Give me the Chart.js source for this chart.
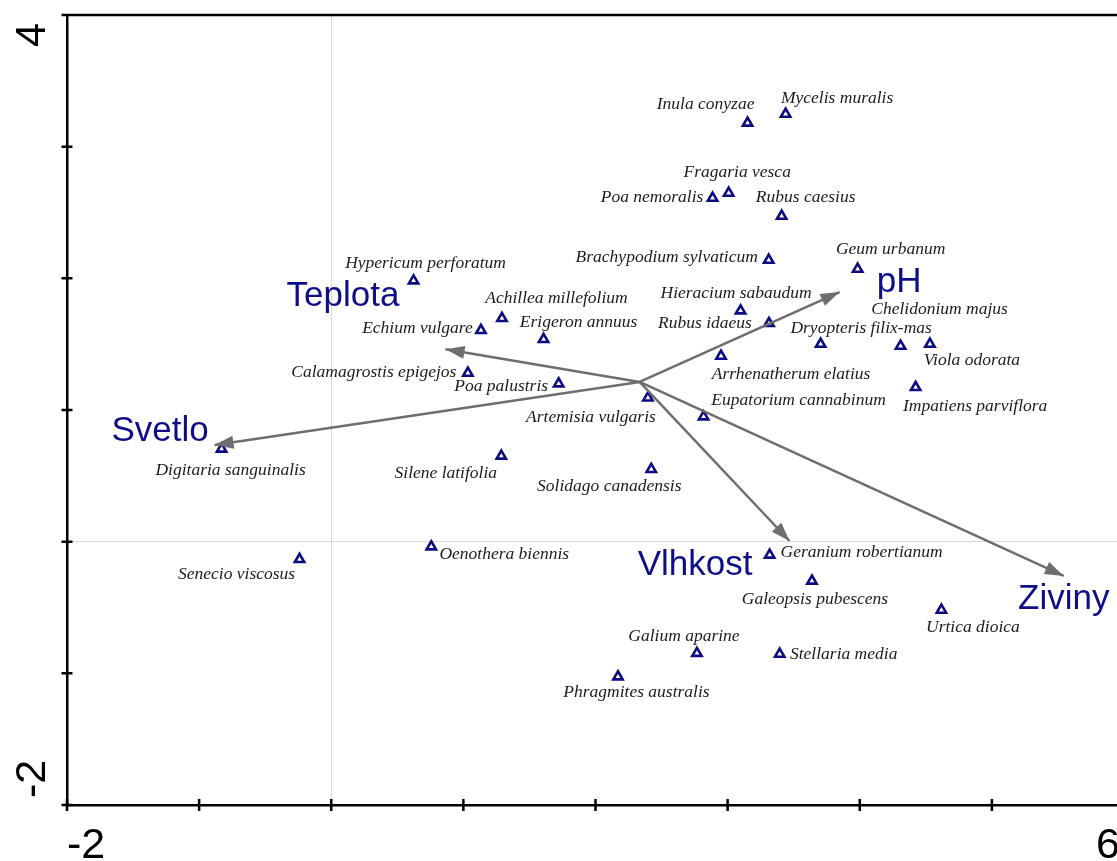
<!DOCTYPE html>
<html>
<head>
<meta charset="utf-8">
<title>Ordinační diagram</title>
<script src="https://cdn.jsdelivr.net/npm/chart.js@4"></script>
<style>
  html, body { margin: 0; padding: 0; background: #fff; overflow: hidden; }
  #wrap { position: relative; width: 1130px; height: 861px; }
</style>
</head>
<body>
<div id="wrap"><canvas id="ord" width="1130" height="861"></canvas></div>
<script>
// Species scores on the first two ordination axes
const species = [
  'Inula conyzae', 'Mycelis muralis', 'Fragaria vesca', 'Poa nemoralis', 'Rubus caesius',
  'Brachypodium sylvaticum', 'Geum urbanum', 'Hypericum perforatum', 'Hieracium sabaudum',
  'Rubus idaeus', 'Dryopteris filix-mas', 'Chelidonium majus', 'Viola odorata',
  'Impatiens parviflora', 'Achillea millefolium', 'Echium vulgare', 'Erigeron annuus',
  'Calamagrostis epigejos', 'Poa palustris', 'Arrhenatherum elatius', 'Artemisia vulgaris',
  'Eupatorium cannabinum', 'Digitaria sanguinalis', 'Silene latifolia', 'Solidago canadensis',
  'Oenothera biennis', 'Senecio viscosus', 'Geranium robertianum', 'Galeopsis pubescens',
  'Urtica dioica', 'Galium aparine', 'Stellaria media', 'Phragmites australis'
];
const speciesAxis1 = [
  3.151, 3.439, 3.008, 2.886, 3.409,
  3.311, 3.984, 0.623, 3.098,
  3.313, 3.704, 4.309, 4.531,
  4.423, 1.292, 1.133, 1.607,
  1.034, 1.721, 2.950, 2.397,
  2.818, -0.830, 1.287, 2.422,
  0.757, -0.240, 3.318, 3.638,
  4.618, 2.768, 3.394, 2.170
];
const speciesAxis2 = [
  3.180, 3.248, 2.648, 2.610, 2.473,
  2.139, 2.071, 1.982, 1.754,
  1.658, 1.501, 1.486, 1.501,
  1.172, 1.696, 1.605, 1.537,
  1.281, 1.200, 1.410, 1.093,
  0.949, 0.704, 0.651, 0.550,
  -0.038, -0.134, -0.101, -0.298,
  -0.519, -0.847, -0.853, -1.025
];

// Environmental variables (arrows start from a common origin)
const envVars = ['pH', 'Teplota', 'Svetlo', 'Vlhkost', 'Ziviny'];
const envAxis1 = [3.847, 0.865, -0.883, 3.469, 5.544];
const envAxis2 = [1.896, 1.461, 0.734, 0.005, -0.260];
const arrowOrigin = [2.334, 1.213];

// Axis extents and the tick values that carry a label
const xRange = [-2, 6];
const yRange = [-2, 4];
const xTickLabels = [-2, 6];
const yTickLabels = [-2, 4];

// Label placement (pixel offsets of the label centre from its mark)
const speciesLabelOffset = [
  [-42, -19], [51.5, -16], [8.5, -21], [-60.5, -1], [24, -19],
  [-102, -3], [33, -20], [12, -17], [-4.5, -17],
  [-64, 0], [40.5, -16], [39, -37], [42, 16],
  [59.5, 19], [54.5, -20], [-63.5, -2], [35, -17],
  [-94, -1], [-57.5, 3], [70, 18], [-57, 20],
  [95, -16], [9, 21], [-55.5, 17], [-42, 17],
  [73, 8], [-63, 15], [92, -3], [3, 19],
  [31.5, 17], [-13, -17], [64, 0], [18.5, 16]
];
const envLabelOffset = [[59.5, 0], [-102.5, -43], [-54.5, -4], [-94.5, 34], [0, 33]];

const NAVY = '#0e0e88';
const ARROW = '#6e6e6e';

const arrowSets = envVars.map((name, i) => ({
  label: name,
  data: [{ x: arrowOrigin[0], y: arrowOrigin[1] }, { x: envAxis1[i], y: envAxis2[i] }],
  showLine: true,
  borderColor: ARROW,
  borderWidth: 2.5,
  pointRadius: 0,
  clip: false
}));

const speciesSet = {
  label: 'species',
  data: species.map((s, i) => ({ x: speciesAxis1[i], y: speciesAxis2[i] })),
  pointStyle: 'triangle',
  pointRadius: 5.4,
  pointBorderWidth: 2.6,
  pointBorderColor: '#0c0c80',
  pointBackgroundColor: 'rgba(255,255,255,0)',
  showLine: false
};

const ordinationDecor = {
  id: 'ordinationDecor',
  afterDatasetsDraw(chart) {
    const { ctx, chartArea: a, scales: { x, y } } = chart;
    ctx.save();

    // frame line along the top and crossing tick marks
    ctx.strokeStyle = '#000';
    ctx.lineWidth = 2.5;
    ctx.beginPath();
    ctx.moveTo(a.left - 5.5, a.top);
    ctx.lineTo(a.right, a.top);
    for (let v = yRange[0]; v <= yRange[1]; v++) {
      const py = y.getPixelForValue(v);
      ctx.moveTo(a.left - 5.5, py);
      ctx.lineTo(a.left + 5.5, py);
    }
    for (let v = xRange[0]; v <= xRange[1]; v++) {
      const px = x.getPixelForValue(v);
      ctx.moveTo(px, a.bottom - 6);
      ctx.lineTo(px, a.bottom + 6);
    }
    ctx.stroke();

    // arrow heads
    const ox = x.getPixelForValue(arrowOrigin[0]);
    const oy = y.getPixelForValue(arrowOrigin[1]);
    ctx.fillStyle = ARROW;
    envVars.forEach((name, i) => {
      const tx = x.getPixelForValue(envAxis1[i]);
      const ty = y.getPixelForValue(envAxis2[i]);
      const len = Math.hypot(tx - ox, ty - oy);
      const ux = (tx - ox) / len, uy = (ty - oy) / len;
      const hl = 19, hw = 6.5;
      const bx = tx - ux * hl, by = ty - uy * hl;
      ctx.beginPath();
      ctx.moveTo(tx, ty);
      ctx.lineTo(bx - uy * hw, by + ux * hw);
      ctx.lineTo(bx + uy * hw, by - ux * hw);
      ctx.closePath();
      ctx.fill();
    });

    // species names
    const pts = chart.getDatasetMeta(chart.data.datasets.length - 1).data;
    ctx.fillStyle = '#1c1c1c';
    ctx.font = 'italic 17.5px "Liberation Serif", "Times New Roman", serif';
    ctx.textAlign = 'center';
    ctx.textBaseline = 'middle';
    species.forEach((name, i) => {
      const p = pts[i];
      ctx.fillText(name, p.x + speciesLabelOffset[i][0], p.y + speciesLabelOffset[i][1]);
    });

    // environmental variable names
    ctx.fillStyle = NAVY;
    ctx.font = '35px "Liberation Sans", Arial, sans-serif';
    ctx.textBaseline = 'alphabetic';
    envVars.forEach((name, i) => {
      const tx = x.getPixelForValue(envAxis1[i]);
      const ty = y.getPixelForValue(envAxis2[i]);
      ctx.fillText(name, tx + envLabelOffset[i][0], ty + envLabelOffset[i][1]);
    });

    // axis end labels
    ctx.fillStyle = '#000';
    ctx.font = '43px "Liberation Sans", Arial, sans-serif';
    ctx.textBaseline = 'alphabetic';
    const bx0 = x.getPixelForValue(xTickLabels[0]);
    const bx1 = x.getPixelForValue(xTickLabels[1]);
    ctx.textAlign = 'left';
    ctx.fillText(String(xTickLabels[0]), bx0, a.bottom + 53);
    ctx.textAlign = 'right';
    ctx.fillText(String(xTickLabels[1]), bx1 - 4, a.bottom + 53);

    const ly0 = y.getPixelForValue(yTickLabels[0]);
    const ly1 = y.getPixelForValue(yTickLabels[1]);
    ctx.save();
    ctx.translate(a.left - 22, ly0);
    ctx.rotate(-Math.PI / 2);
    ctx.textAlign = 'left';
    ctx.fillText(String(yTickLabels[0]), 7, 0);
    ctx.restore();
    ctx.save();
    ctx.translate(a.left - 22, ly1);
    ctx.rotate(-Math.PI / 2);
    ctx.textAlign = 'right';
    ctx.fillText(String(yTickLabels[1]), -8, 0);
    ctx.restore();

    ctx.restore();
  }
};

const zeroGrid = c => (c.tick && c.tick.value === 0 ? '#d9d9d9' : 'rgba(0,0,0,0)');

new Chart(document.getElementById('ord'), {
  type: 'scatter',
  data: { datasets: [...arrowSets, speciesSet] },
  options: {
    responsive: false,
    animation: false,
    devicePixelRatio: 1,
    events: [],
    layout: { autoPadding: false, padding: { left: 67, top: 15, right: 6, bottom: 56 } },
    plugins: { legend: { display: false }, tooltip: { enabled: false } },
    scales: {
      x: {
        type: 'linear', min: xRange[0], max: xRange[1],
        ticks: { display: false, stepSize: 1 },
        grid: { drawTicks: false, color: zeroGrid, lineWidth: 1 },
        border: { display: true, color: '#000', width: 2.5 }
      },
      y: {
        type: 'linear', min: yRange[0], max: yRange[1],
        ticks: { display: false, stepSize: 1 },
        grid: { drawTicks: false, color: zeroGrid, lineWidth: 1 },
        border: { display: true, color: '#000', width: 2.5 }
      }
    }
  },
  plugins: [ordinationDecor]
});
</script>
</body>
</html>
